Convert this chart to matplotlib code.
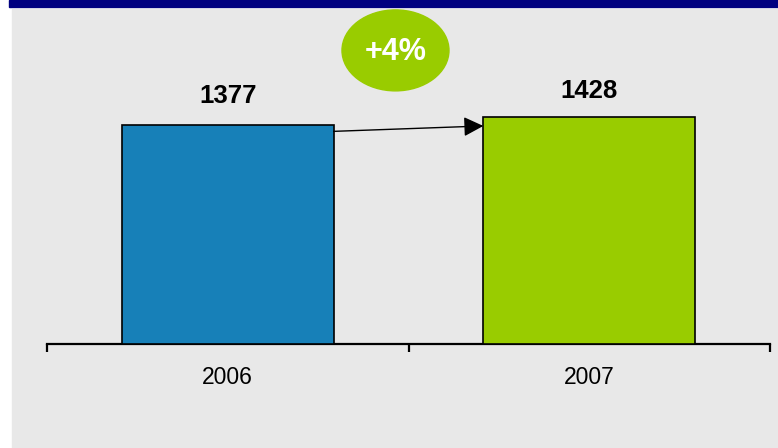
import matplotlib
matplotlib.use("Agg")
import matplotlib.pyplot as plt
from matplotlib.patches import Rectangle, Ellipse

plt.rcParams['font.family'] = ['Liberation Sans', 'DejaVu Sans']

years = ['2006', '2007']
values = [1377, 1428]
bar_colors = ['#1780b8', '#99cc00']
growth_label = '+4%'

W, H = 778, 448
fig = plt.figure(figsize=(W / 100, H / 100), dpi=100)
fig.patch.set_facecolor('white')

# header band + grey panel
fig.patches.append(Rectangle((9 / W, 1 - 7 / H), 1 - 9 / W, 7 / H,
                             transform=fig.transFigure, color='#000080', zorder=-10))
fig.patches.append(Rectangle((12 / W, 0), 1 - 12 / W, 1 - 9 / H,
                             transform=fig.transFigure, color='#e8e8e8', zorder=-10))

ax = fig.add_axes([47 / W, (H - 344) / H, 723 / W, 334 / H])
ax.set_facecolor('none')
ax.set_zorder(1)

x = list(range(len(years)))
bw = 0.586
ax.bar(x, values, width=bw, color=bar_colors, edgecolor='black', linewidth=1.2, zorder=3)

ax.set_xlim(-0.5, 1.5)
ax.set_ylim(0, 2100)

label_pad = [29, 26]
for xi, v, p in zip(x, values, label_pad):
    ax.annotate(str(v), (xi, v), xytext=(0, p), textcoords='offset pixels',
                ha='center', va='center', fontsize=18.5, fontweight='bold')

# growth arrow between bars
ax.annotate('', xy=(1 - bw / 2, values[1] - 57), xytext=(bw / 2, values[0] - 40),
            arrowprops=dict(arrowstyle='-|>,head_length=0.6,head_width=0.3',
                            mutation_scale=20, color='black', lw=1,
                            shrinkA=0, shrinkB=0), zorder=4)

ax.add_patch(Ellipse((0.464, 1846), 0.296, 509, color='#99cc00', clip_on=False, zorder=5))
ax.text(0.464, 1835, growth_label, ha='center', va='center', fontsize=22,
        fontweight='bold', color='white', zorder=6)

for s in ['left', 'top', 'right']:
    ax.spines[s].set_visible(False)
ax.spines['bottom'].set_linewidth(1.6)
ax.set_yticks([])
ax.set_xticks([-0.5, 0.5, 1.5])
ax.set_xticklabels([])
ax.tick_params(axis='x', which='major', length=6, width=1.6, direction='out')
ax.set_xticks(x, minor=True)
ax.set_xticklabels(years, minor=True, fontsize=16.5)
ax.tick_params(axis='x', which='minor', length=0, pad=16)

fig.savefig('out.png', dpi=100)
